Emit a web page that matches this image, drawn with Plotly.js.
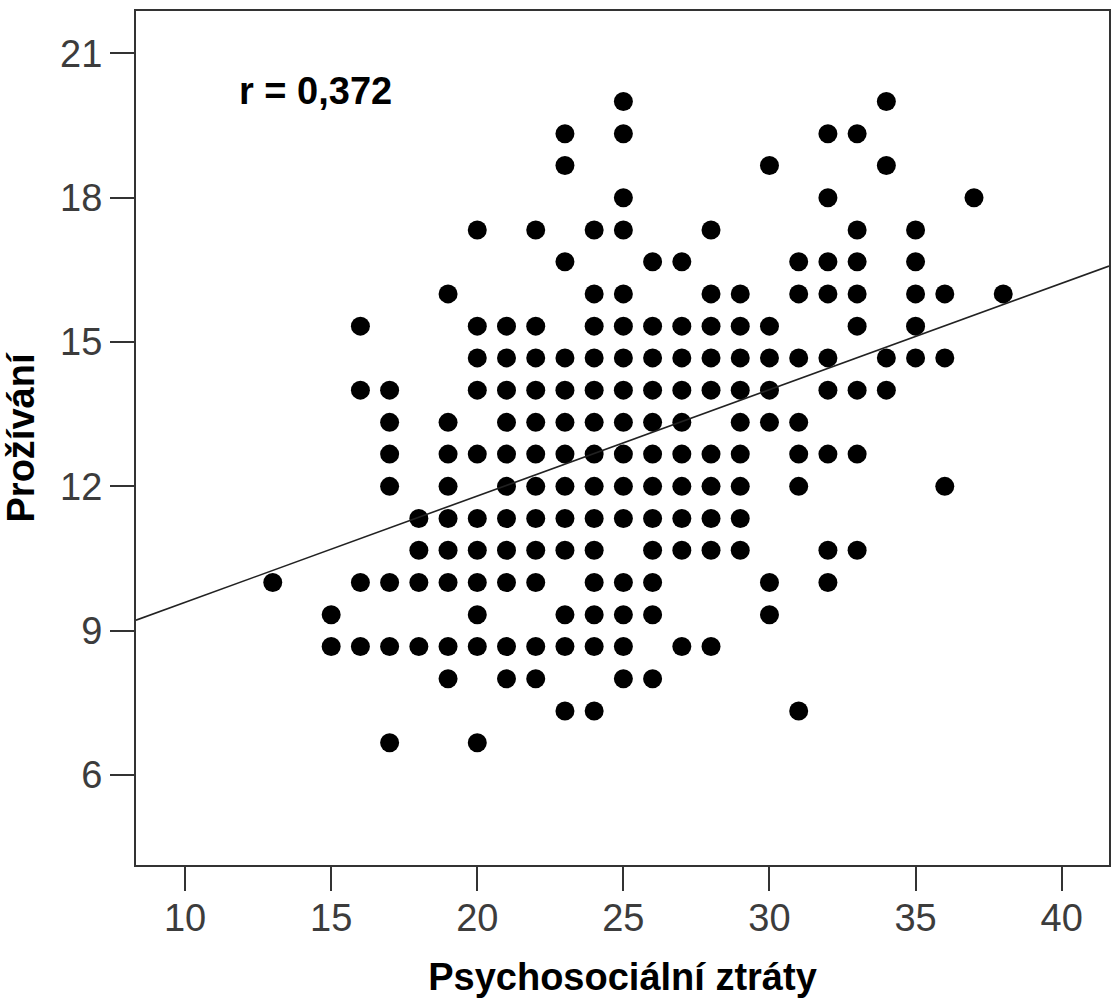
<!DOCTYPE html>
<html>
<head>
<meta charset="utf-8">
<script src="https://cdn.plot.ly/plotly-3.0.1.min.js"></script>
<style>html,body{margin:0;padding:0;background:#fff;}#chart{width:1112px;height:1003px;}</style>
</head>
<body>
<div id="chart"></div>
<script>
// Y levels (Prožívání) and the X values (Psychosociální ztráty) of the points on each level
const yLevels = [20.00, 19.33, 18.67, 18.00, 17.33, 16.67, 16.00, 15.33, 14.67, 14.00, 13.33, 12.67, 12.00, 11.33, 10.67, 10.00, 9.33, 8.67, 8.00, 7.33, 6.67];
const xAt20_00 = [25, 34];
const xAt19_33 = [23, 25, 32, 33];
const xAt18_67 = [23, 30, 34];
const xAt18_00 = [25, 32, 37];
const xAt17_33 = [20, 22, 24, 25, 28, 33, 35];
const xAt16_67 = [23, 26, 27, 31, 32, 33, 35];
const xAt16_00 = [19, 24, 25, 28, 29, 31, 32, 33, 35, 36, 38];
const xAt15_33 = [16, 20, 21, 22, 24, 25, 26, 27, 28, 29, 30, 33, 35];
const xAt14_67 = [20, 21, 22, 23, 24, 25, 26, 27, 28, 29, 30, 31, 32, 34, 35, 36];
const xAt14_00 = [16, 17, 20, 21, 22, 23, 24, 25, 26, 27, 28, 29, 30, 32, 33, 34];
const xAt13_33 = [17, 19, 21, 22, 23, 24, 25, 26, 27, 29, 30, 31];
const xAt12_67 = [17, 19, 20, 21, 22, 23, 24, 25, 26, 27, 28, 29, 31, 32, 33];
const xAt12_00 = [17, 19, 21, 22, 23, 24, 25, 26, 27, 28, 29, 31, 36];
const xAt11_33 = [18, 19, 20, 21, 22, 23, 24, 25, 26, 27, 28, 29];
const xAt10_67 = [18, 19, 20, 21, 22, 23, 24, 26, 27, 28, 29, 32, 33];
const xAt10_00 = [13, 16, 17, 18, 19, 20, 21, 22, 24, 25, 26, 30, 32];
const xAt9_33  = [15, 20, 23, 24, 25, 26, 30];
const xAt8_67  = [15, 16, 17, 18, 19, 20, 21, 22, 23, 24, 25, 27, 28];
const xAt8_00  = [19, 21, 22, 25, 26];
const xAt7_33  = [23, 24, 31];
const xAt6_67  = [17, 20];
const xRows = [xAt20_00, xAt19_33, xAt18_67, xAt18_00, xAt17_33, xAt16_67, xAt16_00, xAt15_33, xAt14_67, xAt14_00, xAt13_33, xAt12_67, xAt12_00, xAt11_33, xAt10_67, xAt10_00, xAt9_33, xAt8_67, xAt8_00, xAt7_33, xAt6_67];

// Fit line
const fitIntercept = 7.38;
const fitSlope = 0.221;
const rLabel = 'r = 0,372';

const xTicks = [10, 15, 20, 25, 30, 35, 40];
const yTicks = [6, 9, 12, 15, 18, 21];
const xRange = [8.32, 41.62];
const yRange = [4.13, 21.88];

const px = [], py = [];
xRows.forEach((row, i) => row.forEach(x => { px.push(x); py.push(yLevels[i]); }));

const lineX = xRange.slice();
const lineY = lineX.map(x => fitIntercept + fitSlope * x);

const FONT = 'Liberation Sans, Arial, sans-serif';
const axisCommon = {
  showgrid: false, zeroline: false, showline: true, mirror: true,
  linecolor: '#333', linewidth: 2,
  ticks: 'outside', ticklen: 24, tickwidth: 2, tickcolor: '#333',
  tickfont: {family: FONT, size: 38, color: '#3c3c3c'},
  fixedrange: true
};

const data = [
  {type: 'scatter', mode: 'markers', x: px, y: py,
   marker: {size: 19, color: '#000'}, hoverinfo: 'x+y', showlegend: false},
  {type: 'scatter', mode: 'lines', x: lineX, y: lineY,
   line: {color: '#222', width: 1.6}, hoverinfo: 'skip', showlegend: false}
];

const layout = {
  width: 1112, height: 1003,
  margin: {l: 136, r: 3, t: 11, b: 138},
  paper_bgcolor: '#fff', plot_bgcolor: '#fff',
  xaxis: Object.assign({}, axisCommon, {
    range: xRange, tickvals: xTicks, ticktext: xTicks.map(String),
    ticklabelstandoff: -6,
    title: {text: 'Psychosociální ztráty', font: {family: FONT, size: 38, color: '#000', weight: 'bold'}, standoff: 26}
  }),
  yaxis: Object.assign({}, axisCommon, {
    range: yRange, tickvals: yTicks, ticktext: yTicks.map(String),
    title: {text: 'Prožívání', font: {family: FONT, size: 38, color: '#000', weight: 'bold'}, standoff: 15}
  }),
  annotations: [{
    text: rLabel, xref: 'x', yref: 'y', x: 14.48, y: 20.22,
    showarrow: false, xanchor: 'center', yanchor: 'middle',
    font: {family: FONT, size: 38, color: '#000', weight: 'bold'}
  }]
};

Plotly.newPlot('chart', data, layout, {displayModeBar: false, staticPlot: true});
</script>
</body>
</html>
